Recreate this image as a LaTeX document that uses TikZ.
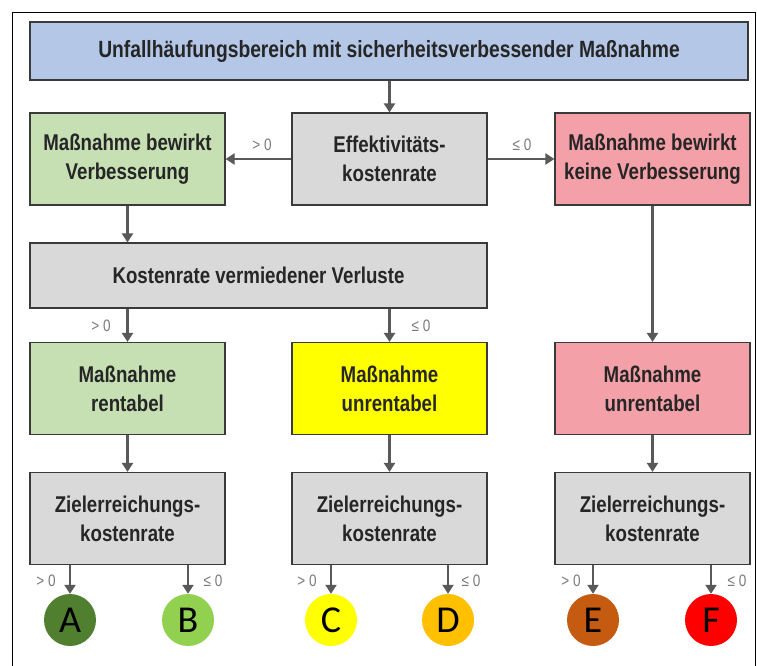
\documentclass[tikz,border=0pt]{standalone}
\usepackage{fontspec}
\setmainfont{Liberation Sans}
\newfontfamily\narrowfont[FakeStretch=0.82]{Liberation Sans}
\newfontfamily\circfont{Carlito}
\usetikzlibrary{arrows.meta,calc}
\definecolor{cblue}{HTML}{B4C7E7}
\definecolor{cgreen}{HTML}{C6E0B4}
\definecolor{cgray}{HTML}{D9D9D9}
\definecolor{cpink}{HTML}{F4A0A8}
\definecolor{cyellow}{HTML}{FFFF00}
\definecolor{carrow}{HTML}{595959}
\definecolor{cborder}{HTML}{3A3A3A}
\definecolor{cA}{HTML}{4F7F2F}
\definecolor{cB}{HTML}{92D050}
\definecolor{cC}{HTML}{FFFF00}
\definecolor{cD}{HTML}{FFC000}
\definecolor{cE}{HTML}{C55A11}
\definecolor{cF}{HTML}{FF0000}
\definecolor{clabel}{HTML}{7A7A7A}
\tikzset{
  box/.style={draw=cborder, line width=1.2pt, minimum width=195pt, minimum height=92pt,
    align=center, inner sep=0pt, font=\narrowfont\fontsize{22.8}{29}\selectfont\bfseries, text=black!85},
  conn/.style={draw=carrow, line width=2.6pt, -{Triangle[width=11pt,length=9pt]}},
  lbl/.style={text=clabel, font=\narrowfont\fontsize{16.5}{18}\selectfont, inner sep=0pt},
  circ/.style={circle, minimum size=52pt, inner sep=0pt, font=\fontsize{38}{38}\selectfont\circfont},
}
\begin{document}
\begin{tikzpicture}[x=1pt,y=-1pt]
\useasboundingbox (0,0) rectangle (757,666);
\clip (0,0) rectangle (757,666);
\fill[white] (0,0) rectangle (757,666);
% frame
\draw[black, line width=0.8pt] (12,700) -- (12,12) -- (755,12) -- (755,700);
% top
\node[box, fill=cblue, minimum width=718pt, minimum height=58pt, font=\narrowfont\fontsize{23.5}{29}\selectfont\bfseries] (top) at (389,51)
  {Unfallhäufungsbereich mit sicherheitsverbessender Maßnahme};
% row 2
\node[box, fill=cgreen] (g2) at (127.5,159) {Maßnahme bewirkt\\Verbesserung};
\node[box, fill=cgray] (eff) at (389.5,159) {Effektivitäts-\\kostenrate};
\node[box, fill=cpink] (r2) at (652.5,159) {Maßnahme bewirkt\\keine Verbesserung};
% Kostenrate
\node[box, fill=cgray, minimum width=457pt, minimum height=65pt] (kv) at (258.5,275.5)
  {Kostenrate vermiedener Verluste};
% row 3
\node[box, fill=cgreen] (g3) at (127.5,388.5) {Maßnahme\\rentabel};
\node[box, fill=cyellow] (y3) at (389.5,388.5) {Maßnahme\\unrentabel};
\node[box, fill=cpink] (r3) at (652.5,388.5) {Maßnahme\\unrentabel};
% row 4
\node[box, fill=cgray] (z1) at (127.5,518.5) {Zielerreichungs-\\kostenrate};
\node[box, fill=cgray] (z2) at (389.5,518.5) {Zielerreichungs-\\kostenrate};
\node[box, fill=cgray] (z3) at (652.5,518.5) {Zielerreichungs-\\kostenrate};
% circles
\node[circ, fill=cA] (A) at (70,620) {A};
\node[circ, fill=cB] (B) at (188,620) {B};
\node[circ, fill=cC] (C) at (331,620) {C};
\node[circ, fill=cD] (D) at (448,620) {D};
\node[circ, fill=cE] (E) at (593,620) {E};
\node[circ, fill=cF] (F) at (711,620) {F};
% connectors
\draw[conn] (top.south -| eff.north) -- (eff.north);
\draw[conn] (eff.west) -- (g2.east);
\draw[conn] (eff.east) -- (r2.west);
\draw[conn] (g2.south) -- (g2.south |- kv.north);
\draw[conn] (kv.south -| g3.north) -- (g3.north);
\draw[conn] (kv.south -| y3.north) -- (y3.north);
\draw[conn] (r2.south) -- (r3.north);
\draw[conn] (g3.south) -- (z1.north);
\draw[conn] (y3.south) -- (z2.north);
\draw[conn] (r3.south) -- (z3.north);
\draw[conn] (z1.south -| A.north) -- (A.north);
\draw[conn] (z1.south -| B.north) -- (B.north);
\draw[conn] (z2.south -| C.north) -- (C.north);
\draw[conn] (z2.south -| D.north) -- (D.north);
\draw[conn] (z3.south -| E.north) -- (E.north);
\draw[conn] (z3.south -| F.north) -- (F.north);
% labels
\node[lbl] (l1) at (262,145) {> 0};
\node[lbl] (l2) at (522,145) {≤ 0};
\node[lbl] (l3) at (101,326) {> 0};
\node[lbl] (l4) at (421,326) {≤ 0};
\node[lbl] (l5) at (46,581) {> 0};
\node[lbl] (l6) at (213,581) {≤ 0};
\node[lbl] (l7) at (307,581) {> 0};
\node[lbl] (l8) at (471,581) {≤ 0};
\node[lbl] (l9) at (571,581) {> 0};
\node[lbl] (l10) at (737,581) {≤ 0};
\end{tikzpicture}
\end{document}
